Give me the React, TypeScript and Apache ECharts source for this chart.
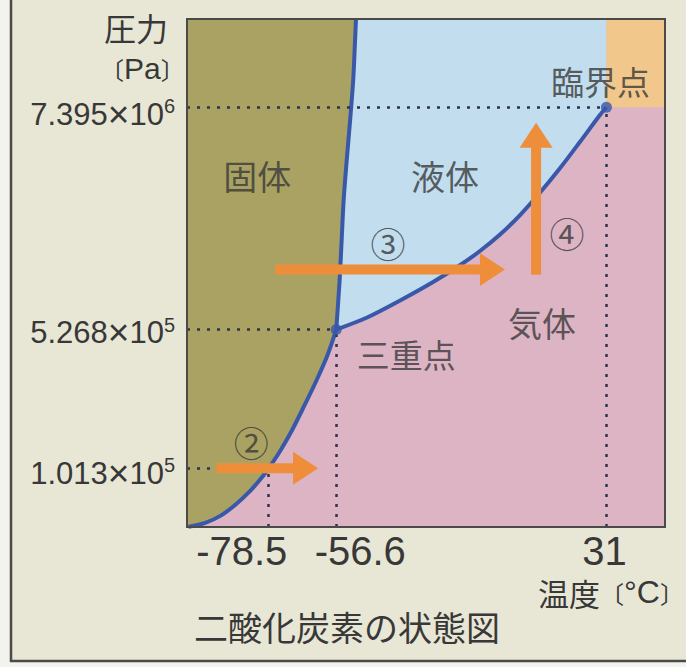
import React, { useEffect, useRef } from "react";
import * as echarts from "echarts";

// Axis extents: temperature (°C), pressure (Pa, logarithmic)
const tempRange = [-105, 50];
const pressureRange = [5.04e4, 2.11e7];

// Marked temperatures / pressures (tick labels)
const tempTicks = [-78.5, -56.6, 31];
const pressureTicks = [1.013e5, 5.268e5, 7.395e6];

const triplePoint = [-56.6, 5.268e5];
const criticalPoint = [31, 7.395e6];

// Sublimation curve (solid / gas)
const sublimationT = [-104.5, -99.1, -94.2, -89.4, -84.5, -80.6, -78.5, -74.8, -70.9, -67.0, -63.1, -59.55, -56.6];
const sublimationP = [5.05e4, 5.29e4, 5.75e4, 6.55e4, 7.74e4, 9.14e4, 1.013e5, 1.244e5, 1.597e5, 2.124e5, 2.858e5, 3.847e5, 5.268e5];

// Melting curve (solid / liquid)
const meltingT = [-56.6, -55.5, -54.85, -54.2, -53.2, -52.1, -51.1, -50.5, -50.2];
const meltingP = [5.268e5, 9.49e5, 1.526e6, 2.456e6, 3.95e6, 6.35e6, 1.022e7, 1.643e7, 2.11e7];

// Vaporization curve (liquid / gas)
const vaporT = [-56.6, -46.6, -35.9, -25.2, -16.4, -10.0, -3.5, 3.0, 9.5, 16.0, 22.4, 28.9, 31];
const vaporP = [5.268e5, 6.08e5, 7.44e5, 9.27e5, 1.134e6, 1.339e6, 1.629e6, 2.054e6, 2.684e6, 3.591e6, 4.891e6, 6.74e6, 7.395e6];

// Region names
const regionNames = ["固体", "液体", "気体"];
const regionNameT = [-82.2, -21.3, 10.1];
const regionNameP = [3.3e6, 3.3e6, 5.76e5];

// Process arrows
const stepNames = ["②", "③", "④"];
const stepNameT = [-84.2, -39.8, 18.2];
const stepNameP = [1.385e5, 1.473e6, 1.678e6];
const arrowFromT = [-95.5, -76.4, 8.2];
const arrowFromP = [1.013e5, 1.074e6, 1.01e6];
const arrowToT = [-62.5, -1.9, 8.2];
const arrowToP = [1.013e5, 1.074e6, 6.15e6];

const pointNames = ["三重点", "臨界点"];

const C = {
  bg: "#e8e7d5",
  outer: "#f2f2ee",
  gas: "#dcb4c4",
  solid: "#a9a262",
  liquid: "#c1ddee",
  supercritical: "#f2c78c",
  curve: "#3a58aa",
  arrow: "#ee8e3b",
  text: "#383838",
  guide: "#2e3450",
  frame: "#4a4a48",
};
const NUM_FONT = '"Liberation Sans", Arial, sans-serif';
const CJK_FONT = '"Noto Sans CJK JP", sans-serif';

const xLabelPadding = [
  [0, 54, 0, 0],
  [0, 0, 0, 48],
  [0, 4, 0, 0],
];
const yLabelPadding = [
  [10, 0, 0, 0],
  [6, 0, 0, 0],
  [14, 0, 0, 0],
];
const pointLabelOffset = [
  [70, 24],
  [-6, -26],
];

const zip = (a: number[], b: number[]) => a.map((v, i) => [v, b[i]]);

function buildOption() {
  const [tMin, tMax] = tempRange;
  const [pMin, pMax] = pressureRange;
  const [tc, pc] = criticalPoint;
  const sub = zip(sublimationT, sublimationP);
  const melt = zip(meltingT, meltingP);
  const vap = zip(vaporT, vaporP);

  const regions = [
    { color: C.gas, pts: [[tMin, pMin], [tMin, pMax], [tMax, pMax], [tMax, pMin]] },
    { color: C.solid, pts: [[tMin, pMin], ...sub, ...melt.slice(1), [tMin, pMax]] },
    { color: C.liquid, pts: [...melt, [tc, pMax], ...vap.slice().reverse()] },
    { color: C.supercritical, pts: [[tc, pc], [tc, pMax], [tMax, pMax], [tMax, pc]] },
  ];

  const guideLines: any[] = [];
  tempTicks.forEach((t, i) => {
    guideLines.push([
      {
        coord: [t, pMin],
        label: {
          formatter: String(t),
          fontSize: 40,
          fontFamily: NUM_FONT,
          color: C.text,
          distance: 4,
          padding: xLabelPadding[i],
        },
      },
      { coord: [t, pressureTicks[i]] },
    ]);
  });
  pressureTicks.forEach((p, i) => {
    const exp = Math.floor(Math.log10(p));
    const mant = (p / Math.pow(10, exp)).toFixed(3);
    guideLines.push([
      {
        coord: [tMin, p],
        label: {
          formatter: `{m|${mant}}{x|×}{m|10}{s|${exp}}`,
          distance: 12,
          padding: yLabelPadding[i],
          rich: {
            m: { fontSize: 31, fontFamily: NUM_FONT, color: C.text, lineHeight: 36 },
            x: { fontSize: 37, fontFamily: NUM_FONT, color: C.text, lineHeight: 36 },
            s: { fontSize: 20, fontFamily: NUM_FONT, color: C.text, lineHeight: 22, verticalAlign: "top" },
          },
        },
      },
      { coord: [tempTicks[i], p] },
    ]);
  });

  const curveSeries = (name: string, data: number[][], extra: any = {}) => ({
    type: "line",
    name,
    data,
    symbol: "none",
    showSymbol: false,
    silent: true,
    smooth: 0.3,
    z: 3,
    lineStyle: { color: C.curve, width: 4 },
    ...extra,
  });

  return {
    animation: false,
    backgroundColor: C.bg,
    grid: { left: 187, top: 19, right: 21, bottom: 140, containLabel: false, outerBoundsMode: "none" },
    xAxis: { type: "value", min: tMin, max: tMax, show: false },
    yAxis: { type: "log", logBase: 10, min: pMin, max: pMax, show: false },
    graphic: [
      { type: "rect", shape: { x: 0, y: 0, width: 10, height: 667 }, style: { fill: C.outer } },
      { type: "rect", shape: { x: 0, y: 662, width: 686, height: 5 }, style: { fill: C.outer } },
      { type: "line", shape: { x1: 11, y1: 0, x2: 11, y2: 662 }, style: { stroke: C.frame, lineWidth: 2.5 } },
      { type: "line", shape: { x1: 10, y1: 661, x2: 686, y2: 661 }, style: { stroke: C.frame, lineWidth: 2.5 } },
      {
        type: "text",
        x: 168,
        y: 27,
        style: { text: "圧力", fontSize: 32, fontFamily: CJK_FONT, fill: C.text, align: "right", verticalAlign: "middle" },
      },
      {
        type: "text",
        x: 100,
        y: 68,
        style: {
          text: "{b|〔}{t|Pa}{b|〕}",
          fill: C.text,
          align: "left",
          verticalAlign: "middle",
          rich: {
            b: { fontSize: 24, fontFamily: CJK_FONT, fill: C.text },
            t: { fontSize: 30, fontFamily: NUM_FONT, fill: C.text },
          },
        },
      },
      {
        type: "text",
        x: 538,
        y: 592,
        style: {
          text: "{c|温度}{b|〔}{u|°C}{b|〕}",
          fill: C.text,
          align: "left",
          verticalAlign: "middle",
          rich: {
            c: { fontSize: 31, fontFamily: CJK_FONT, fill: C.text },
            b: { fontSize: 24, fontFamily: CJK_FONT, fill: C.text },
            u: { fontSize: 32, fontFamily: NUM_FONT, fill: C.text },
          },
        },
      },
      {
        type: "text",
        x: 194,
        y: 626,
        style: { text: "二酸化炭素の状態図", fontSize: 34, fontFamily: CJK_FONT, fill: C.text, align: "left", verticalAlign: "middle" },
      },
    ],
    series: [
      {
        type: "custom",
        name: "regions",
        z: 1,
        silent: true,
        data: regions.map((_, i) => [tMin, pMin, i]),
        encode: { x: 0, y: 1 },
        renderItem: (_params: any, api: any) => {
          const r = regions[api.value(2)];
          return {
            type: "polygon",
            shape: { points: r.pts.map((p) => api.coord(p)) },
            style: { fill: r.color },
          };
        },
      },
      curveSeries("sublimation", sub, {
        markLine: {
          silent: true,
          symbol: ["none", "none"],
          lineStyle: { type: [3, 7], color: C.guide, width: 2.5 },
          label: { show: true, position: "start" },
          data: guideLines,
        },
      }),
      curveSeries("melting", melt),
      curveSeries("vapor", vap),
      {
        type: "custom",
        name: "arrows",
        z: 5,
        silent: true,
        data: arrowFromT.map((t, i) => [t, arrowFromP[i], arrowToT[i], arrowToP[i]]),
        encode: { x: [0, 2], y: [1, 3] },
        renderItem: (_params: any, api: any) => {
          const s = api.coord([api.value(0), api.value(1)]);
          const e = api.coord([api.value(2), api.value(3)]);
          const dx = e[0] - s[0];
          const dy = e[1] - s[1];
          const len = Math.hypot(dx, dy);
          const ux = dx / len;
          const uy = dy / len;
          const nx = -uy;
          const ny = ux;
          const hw = 5;
          const hh = 16.5;
          const hl = 25;
          const b = [e[0] - ux * hl, e[1] - uy * hl];
          const pts = [
            [s[0] + nx * hw, s[1] + ny * hw],
            [b[0] + nx * hw, b[1] + ny * hw],
            [b[0] + nx * hh, b[1] + ny * hh],
            [e[0], e[1]],
            [b[0] - nx * hh, b[1] - ny * hh],
            [b[0] - nx * hw, b[1] - ny * hw],
            [s[0] - nx * hw, s[1] - ny * hw],
          ];
          return { type: "polygon", shape: { points: pts }, style: { fill: C.arrow } };
        },
      },
      {
        type: "scatter",
        name: "points",
        z: 6,
        silent: true,
        symbolSize: 11,
        itemStyle: { color: C.curve },
        label: { show: true, position: "inside", formatter: "{b}", fontSize: 33, fontFamily: CJK_FONT, color: C.text },
        data: [triplePoint, criticalPoint].map((v, i) => ({
          name: pointNames[i],
          value: v,
          label: { offset: pointLabelOffset[i] },
        })),
      },
      {
        type: "scatter",
        name: "labels",
        z: 7,
        silent: true,
        symbolSize: 1,
        itemStyle: { color: "rgba(0,0,0,0)" },
        label: { show: true, position: "inside", formatter: "{b}", fontFamily: CJK_FONT, color: C.text },
        data: [
          ...regionNames.map((n, i) => ({ name: n, value: [regionNameT[i], regionNameP[i]], label: { fontSize: 34 } })),
          ...stepNames.map((n, i) => ({ name: n, value: [stepNameT[i], stepNameP[i]], label: { fontSize: 35 } })),
        ],
      },
      {
        type: "custom",
        name: "frame",
        z: 10,
        silent: true,
        data: [[tMin, pMin]],
        encode: { x: 0, y: 1 },
        renderItem: (params: any) => {
          const cs = params.coordSys;
          return {
            type: "rect",
            shape: { x: cs.x, y: cs.y, width: cs.width, height: cs.height },
            style: { fill: "none", stroke: C.frame, lineWidth: 2 },
          };
        },
      },
    ],
  };
}

export default function App() {
  const ref = useRef<HTMLDivElement>(null);
  useEffect(() => {
    if (!ref.current) return;
    const chart = echarts.init(ref.current, null, { renderer: "svg" });
    chart.setOption(buildOption() as any);
    return () => chart.dispose();
  }, []);
  return <div ref={ref} style={{ position: "absolute", left: 0, top: 0, width: 686, height: 667 }} />;
}
